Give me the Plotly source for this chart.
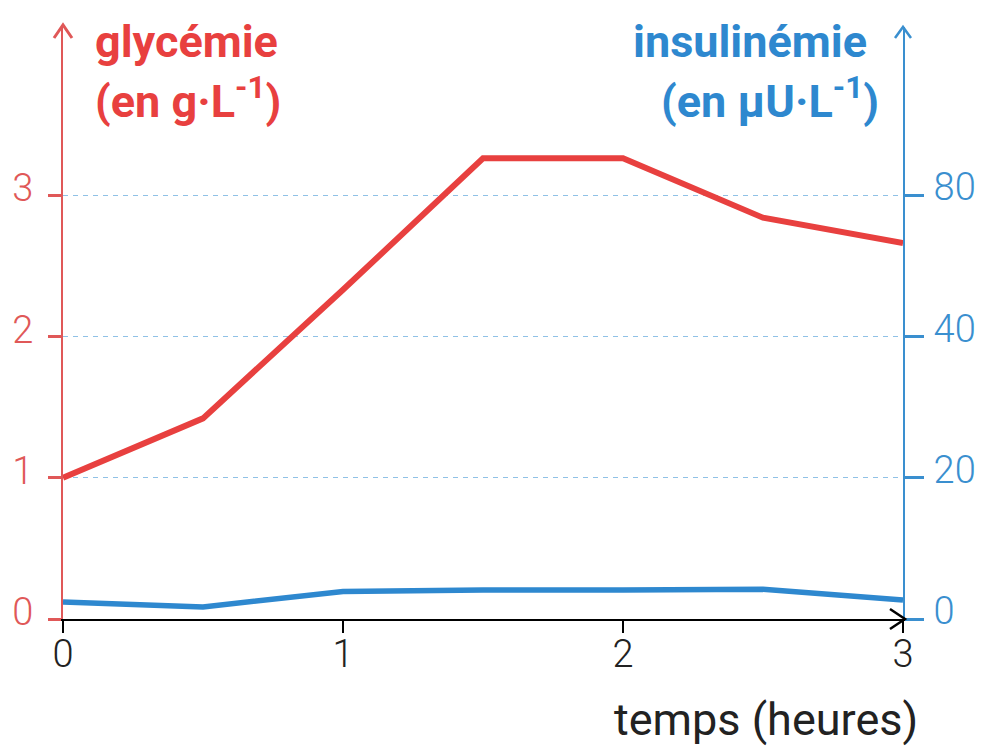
import plotly.graph_objects as go

# ---- data ----
temps = [0, 0.5, 1, 1.5, 2, 2.5, 3]
glycemie = [1.0, 1.42, 2.33, 3.26, 3.26, 2.84, 2.66]
insulinemie = [2.4, 1.7, 3.9, 4.1, 4.1, 4.2, 2.7]

x_ticks = [0, 1, 2, 3]
y1_ticks = [0, 1, 2, 3]
y2_tickvals = [0, 20, 40, 60]
y2_ticktext = ["0", "20", "40", "80"]

# ---- style ----
RED = "#e8403f"
RED_AX = "#e05858"
BLUE = "#2e88cf"
BLUE_AX = "#3a8fcf"
GRID = "#8fc1e6"
FONT = "Roboto"

W, H = 984, 752
L, R, T, B = 63, 81, 27, 133
PW, PH = W - L - R, H - T - B
UNIT = 141.3  # px per g/L

def px(xp):
    return (xp - L) / PW

def py(yp):
    return (H - B - yp) / PH

fig = go.Figure()
fig.add_trace(go.Scatter(x=temps, y=glycemie, mode="lines",
                         line=dict(color=RED, width=6), yaxis="y", hoverinfo="skip"))
fig.add_trace(go.Scatter(x=temps, y=insulinemie, mode="lines",
                         line=dict(color=BLUE, width=5.5), yaxis="y2", hoverinfo="skip"))

ytop = PH / UNIT

fig.update_layout(
    width=W, height=H,
    margin=dict(l=L, r=R, t=T, b=B, pad=0, autoexpand=False),
    paper_bgcolor="white", plot_bgcolor="white",
    showlegend=False,
    xaxis=dict(range=[0, 3], tickvals=x_ticks, showline=True, linecolor="black", linewidth=2,
               ticks="outside", ticklen=12, tickwidth=2, tickcolor="black",
               tickfont=dict(family=FONT, size=38, color="#222", weight=300),
               ticklabelstandoff=-12, showgrid=False, zeroline=False, automargin=False),
    yaxis=dict(range=[0, ytop], tickvals=y1_ticks, showline=True, linecolor=RED_AX, linewidth=2,
               ticks="outside", ticklen=13, tickwidth=3, tickcolor=RED_AX,
               tickfont=dict(family=FONT, size=38, color=RED_AX, weight=300),
               ticklabelstandoff=7, ticklabelshift=-7,
               showgrid=True, gridcolor=GRID, gridwidth=1, griddash="5px,5px",
               zeroline=False, automargin=False),
    yaxis2=dict(range=[0, ytop * 20], tickvals=y2_tickvals, ticktext=y2_ticktext,
                overlaying="y", side="right", showline=True, linecolor=BLUE_AX, linewidth=2,
                ticks="outside", ticklen=19, tickwidth=3, tickcolor=BLUE_AX,
                tickfont=dict(family=FONT, size=38, color=BLUE_AX, weight=300),
                ticklabelstandoff=2, ticklabelshift=-8,
                showgrid=False, zeroline=False, automargin=False),
)

# arrows (chevrons) at the axis ends
def chevron(pts, color, width):
    path = "M {} {} L {} {} L {} {}".format(px(pts[0][0]), py(pts[0][1]), px(pts[1][0]), py(pts[1][1]),
                                           px(pts[2][0]), py(pts[2][1]))
    fig.add_shape(type="path", path=path, xref="paper", yref="paper",
                  line=dict(color=color, width=width), layer="above")

chevron([(54, 38), (63, 25), (72, 38)], RED_AX, 3)
chevron([(895, 38), (903, 27), (911, 38)], BLUE_AX, 2.5)
chevron([(890, 609), (905, 619), (890, 629)], "black", 2.5)

def text(s, x, y, color, size, anchor="left", weight=700):
    fig.add_annotation(text=s, x=px(x), y=py(y), xref="paper", yref="paper",
                       xanchor=anchor, yanchor="middle", showarrow=False,
                       font=dict(family=FONT, size=size, color=color, weight=weight))

text("glycémie", 93, 42, RED, 45)
text("(en g·L<sup>-1</sup>)", 93, 99, RED, 45)
text("insulinémie", 869, 42, BLUE, 45, anchor="right")
text("(en µU·L<sup>-1</sup>)", 881, 99, BLUE, 45, anchor="right")
text("temps (heures)", 766, 719, "#222", 45, anchor="center", weight=400)

fig.write_html("out.html", config={"displayModeBar": False},
               post_script="document.body.style.margin='0';")
